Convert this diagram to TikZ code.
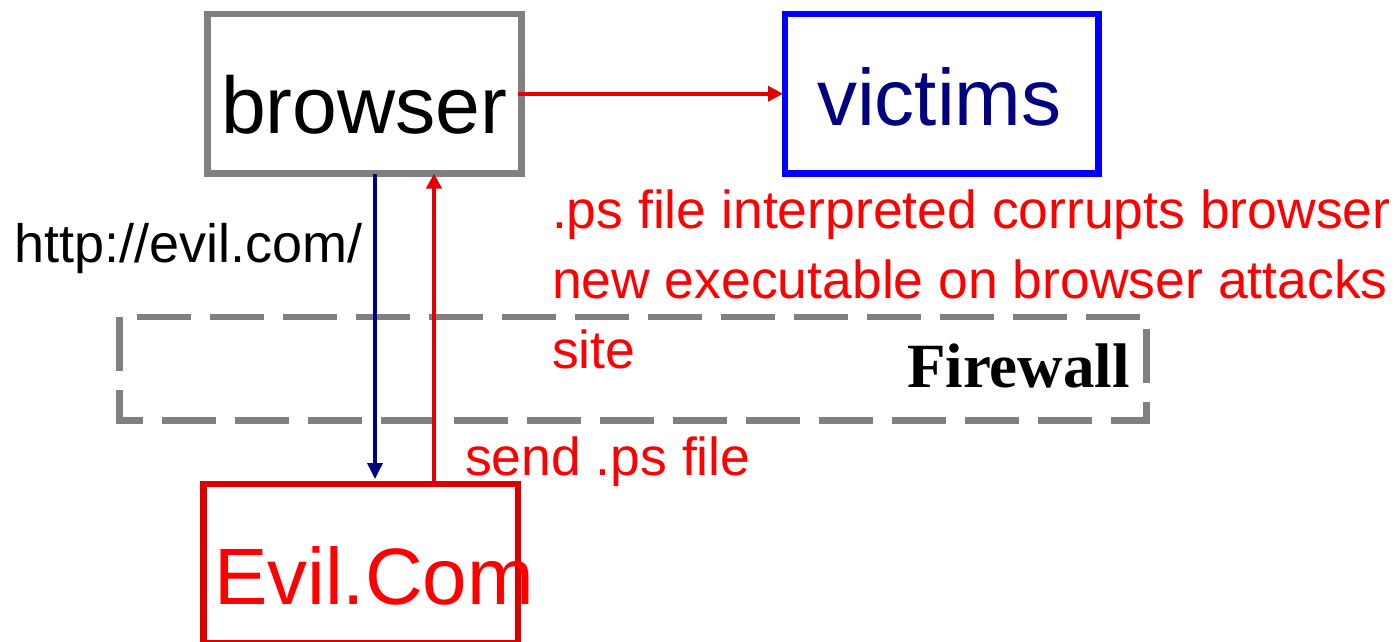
\documentclass[tikz,border=0pt]{standalone}
\usepackage{fontspec}
\setmainfont{Liberation Sans}
\newfontfamily\serifbold{Liberation Serif}
\usetikzlibrary{arrows.meta}
\definecolor{boxgray}{RGB}{128,128,128}
\definecolor{boxblue}{RGB}{0,0,255}
\definecolor{boxred}{RGB}{222,0,0}
\definecolor{txtred}{RGB}{255,0,0}
\definecolor{navy}{RGB}{0,0,128}
\definecolor{arrred}{RGB}{226,0,0}
\tikzset{
  boxnode/.style={draw, line width=6.5pt, inner sep=0pt, outer sep=0pt, minimum width=314pt, minimum height=159.5pt},
  bigtxt/.style={anchor=base west, inner sep=0pt, outer sep=0pt, font=\fontsize{80}{96}\selectfont},
  midtxt/.style={anchor=base west, inner sep=0pt, outer sep=0pt, font=\fontsize{53.5}{64}\selectfont},
  fwtxt/.style={anchor=base west, inner sep=0pt, outer sep=0pt, font=\serifbold\bfseries\fontsize{63}{75}\selectfont},
  fwline/.style={draw=boxgray, line width=6.5pt, dash pattern=on 54pt off 19pt},
  redarrow/.style={draw=arrred, line width=4pt, -{Triangle[length=15pt,width=15pt]}},
  navyarrow/.style={draw=navy, line width=3.5pt, -{Triangle[length=16pt,width=15pt]}}
}
\begin{document}
\begin{tikzpicture}[x=1pt,y=-1pt]
\useasboundingbox (0,0) rectangle (1397,641);
\clip (0,0) rectangle (1397,641);
% firewall dashed region
\coordinate (fwtl) at (119.5,317);
\coordinate (fwbr) at (1146.5,420.5);
\draw[fwline] (fwtl) -- (fwtl |- fwbr) -- (fwbr) -- (fwbr |- fwtl) -- cycle;
\node[fwtxt] (fwlabel) at (907,387) {Firewall};
% boxes
\node[boxnode, draw=boxgray] (browser) at (364.5,93.75) {};
\node[boxnode, draw=boxblue, minimum width=313.5pt] (victims) at (941.75,93.75) {};
\node[boxnode, draw=boxred, minimum width=314.5pt] (evil) at (360.75,563.75) {};
% box texts
\node[bigtxt, text=black, font=\fontsize{80.5}{96}\selectfont] (browsertxt) at (221,133) {browser};
\node[bigtxt, text=navy] (victimstxt) at (817,125) {victims};
\node[bigtxt, text=txtred] (eviltxt) at (214,604) {Evil.Com};
% labels
\node[midtxt, text=black, font=\fontsize{54}{64}\selectfont] (url) at (14,262) {http://evil.com/};
\node[midtxt, text=txtred] (send) at (465,475) {send .ps file};
\node[midtxt, text=txtred] (l1) at (552,228) {.ps file interpreted corrupts browser};
\node[midtxt, text=txtred] (l2) at (552,298) {new executable on browser attacks};
\node[midtxt, text=txtred] (l3) at (552,368) {site};
% connectors
\draw[redarrow, shorten <=-3.5pt, shorten >=2pt] (browser.east) -- (victims.west);
\coordinate (nv) at ([xshift=10.5pt]browser.south);
\coordinate (rd) at ([xshift=69.5pt]browser.south);
\draw[navyarrow, shorten >=5pt] (nv) -- (nv |- evil.north);
\draw[redarrow, shorten <=3.5pt] (rd |- evil.north) -- (rd);
\end{tikzpicture}
\end{document}
